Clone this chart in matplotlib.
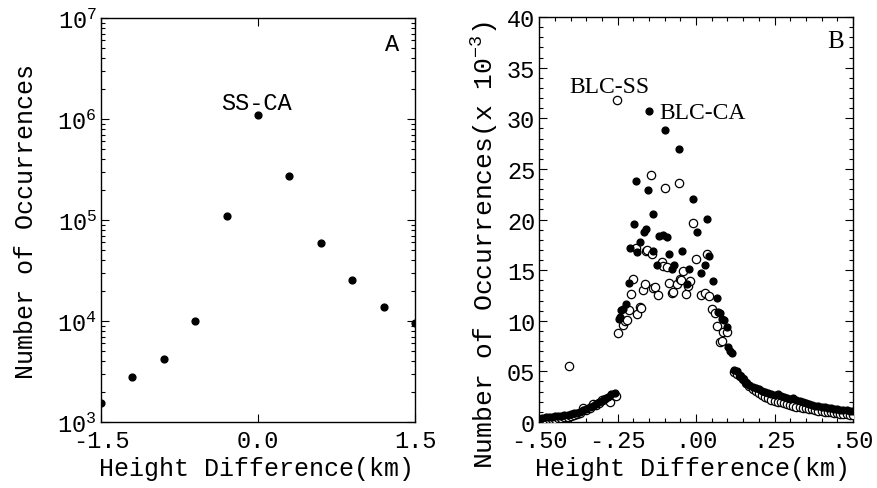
import matplotlib
matplotlib.use('Agg')
import matplotlib.pyplot as plt
from matplotlib.ticker import FixedLocator, FixedFormatter, MultipleLocator, LogLocator, NullFormatter

plt.rcParams['font.family'] = ['Liberation Mono', 'DejaVu Sans']
plt.rcParams['mathtext.fontset'] = 'custom'
plt.rcParams['mathtext.rm'] = 'Liberation Mono'
plt.rcParams['mathtext.it'] = 'Liberation Mono'

# Panel A: SS-CA height differences (log counts)
a_x = [-1.5, -1.2, -0.9, -0.6, -0.3, 0.0, 0.3, 0.6, 0.9, 1.2, 1.5]
a_y = [1540, 2770, 4200, 10000, 110000, 1100000, 275000, 59000, 25700, 13800, 9500]

# Panel B: BLC-CA (filled), counts x 1e-3
ca_x = [-0.50, -0.49, -0.48, -0.47, -0.46, -0.45, -0.44, -0.43, -0.42, -0.41,
        -0.40, -0.39, -0.38, -0.37, -0.36, -0.35, -0.34, -0.33, -0.32, -0.31,
        -0.30, -0.29, -0.28, -0.27, -0.26,
        -0.245, -0.243, -0.238, -0.232, -0.224, -0.215, -0.210, -0.198, -0.193, -0.190,
        -0.180, -0.167, -0.161, -0.155, -0.150, -0.139, -0.136, -0.125, -0.119, -0.105,
        -0.100, -0.092, -0.085, -0.076, -0.070, -0.055, -0.045, -0.030, -0.022, -0.009,
        0.002, 0.016, 0.028, 0.036, 0.041, 0.055, 0.066, 0.070, 0.076, 0.083,
        0.090, 0.098, 0.102, 0.108, 0.113,
        0.12, 0.13, 0.14, 0.15, 0.16, 0.17, 0.18, 0.19, 0.20, 0.21,
        0.22, 0.23, 0.24, 0.25, 0.26, 0.27, 0.28, 0.29, 0.30, 0.31,
        0.32, 0.33, 0.34, 0.35, 0.36, 0.37, 0.38, 0.39, 0.40, 0.41,
        0.42, 0.43, 0.44, 0.45, 0.46, 0.47, 0.48, 0.49, 0.50]
ca_y = [0.30, 0.35, 0.50, 0.45, 0.50, 0.55, 0.55, 0.60, 0.65, 0.70,
        0.75, 0.85, 0.90, 1.00, 1.15, 1.30, 1.45, 1.60, 1.80, 1.95,
        2.10, 2.30, 2.50, 2.75, 2.90,
        10.2, 10.4, 11.1, 11.2, 11.7, 13.7, 17.2, 19.6, 23.8, 16.8,
        17.75, 18.8, 19.1, 22.9, 30.7, 20.5, 16.9, 15.5, 18.4, 18.5,
        28.85, 18.3, 16.6, 15.1, 15.5, 27.0, 16.9, 13.6, 15.1, 22.0,
        18.8, 14.7, 15.5, 20.1, 16.4, 13.9, 12.2, 10.9, 10.8, 10.2,
        10.05, 9.4, 7.4, 7.0, 6.8,
        5.1, 5.0, 4.5, 4.2, 3.9, 3.7, 3.5, 3.4, 3.3, 3.1,
        3.0, 2.9, 2.8, 2.7, 2.75, 2.6, 2.45, 2.35, 2.3, 2.4,
        2.2, 2.05, 1.95, 1.85, 1.75, 1.7, 1.6, 1.55, 1.5, 1.45,
        1.4, 1.35, 1.3, 1.25, 1.2, 1.2, 1.15, 1.1, 1.05]

# Panel B: BLC-SS (open)
ss_x = [-0.50, -0.49, -0.48, -0.47, -0.46, -0.45, -0.44, -0.43, -0.42, -0.41,
        -0.405, -0.40, -0.39, -0.38, -0.37, -0.36, -0.35, -0.34, -0.33, -0.32,
        -0.31, -0.30, -0.29, -0.28, -0.275, -0.265, -0.255,
        -0.2516, -0.248, -0.232, -0.228, -0.221, -0.215, -0.208, -0.200, -0.192, -0.187,
        -0.179, -0.176, -0.169, -0.162, -0.160, -0.156, -0.145, -0.141, -0.138, -0.132,
        -0.123, -0.110, -0.106, -0.100, -0.094, -0.087, -0.078, -0.074, -0.062, -0.055,
        -0.051, -0.048, -0.042, -0.033, -0.025, -0.018, -0.010, 0.000, 0.014, 0.027,
        0.035, 0.041, 0.050, 0.060, 0.067, 0.075, 0.084, 0.086, 0.097,
        0.12, 0.13, 0.14, 0.15, 0.16, 0.17, 0.18, 0.19, 0.20, 0.21,
        0.22, 0.23, 0.24, 0.25, 0.26, 0.27, 0.28, 0.29, 0.30, 0.31,
        0.32, 0.33, 0.34, 0.35, 0.36, 0.37, 0.38, 0.39, 0.40, 0.41,
        0.42, 0.43, 0.44, 0.45, 0.46, 0.47, 0.48, 0.49, 0.50]
ss_y = [0.15, 0.20, 0.20, 0.25, 0.30, 0.30, 0.35, 0.40, 0.45, 0.50,
        5.5, 0.55, 0.65, 0.75, 0.90, 1.35, 1.20, 1.40, 1.80, 1.70,
        1.90, 2.20, 2.30, 2.40, 2.00, 2.70, 2.60,
        31.85, 8.8, 9.6, 10.0, 10.1, 11.1, 12.65, 14.1, 17.2, 10.7,
        11.4, 11.3, 13.0, 13.6, 16.9, 17.0, 24.4, 16.6, 13.2, 13.3,
        12.55, 15.8, 15.4, 23.1, 15.35, 13.7, 12.7, 12.8, 13.6, 23.6,
        14.1, 14.0, 14.9, 12.6, 13.4, 13.9, 19.7, 16.1, 12.5, 12.75,
        16.6, 12.4, 11.2, 10.8, 9.46, 7.9, 8.0, 8.9, 8.86,
        4.9, 4.7, 4.5, 4.2, 3.9, 3.6, 3.3, 3.1, 2.9, 2.7,
        2.5, 2.35, 2.2, 2.1, 2.0, 1.95, 1.85, 1.75, 1.7, 1.6,
        1.5, 1.45, 1.4, 1.35, 1.3, 1.25, 1.2, 1.1, 1.05, 1.0,
        0.95, 0.95, 0.9, 0.85, 0.8, 0.8, 0.75, 0.7, 0.65]

b_xticks = [-0.5, -0.25, 0.0, 0.25, 0.5]
b_xlabels = ['-.50', '-.25', '.00', '.25', '.50']
b_yticks = [0, 5, 10, 15, 20, 25, 30, 35, 40]
b_ylabels = ['0', '05', '10', '15', '20', '25', '30', '35', '40']

fig = plt.figure(figsize=(8.77, 4.89), dpi=100)
axA = fig.add_axes([0.1152, 0.135, 0.358, 0.826])
axB = fig.add_axes([0.615, 0.135, 0.3575, 0.828])

# ---- panel A
axA.scatter(a_x, a_y, s=24, color='black', zorder=3)
axA.set_yscale('log')
axA.set_xlim(-1.5, 1.5)
axA.set_ylim(1e3, 1e7)
axA.set_xticks([-1.5, 0.0, 1.5])
axA.set_xticklabels(['-1.5', '0.0', '1.5'])
axA.yaxis.set_major_locator(LogLocator(base=10, numticks=10))
axA.yaxis.set_minor_locator(LogLocator(base=10, subs=range(2, 10), numticks=10))
axA.yaxis.set_minor_formatter(NullFormatter())
axA.set_xlabel('Height Difference(km)', fontsize=18)
axA.set_ylabel('Number of Occurrences', fontsize=18)
axA.xaxis.set_label_coords(0.494, -0.085)
axA.yaxis.set_label_coords(-0.2, 0.5)
axA.text(0.494, 0.79, 'SS-CA', transform=axA.transAxes, fontsize=17,
         ha='center', va='center')
axA.text(0.927, 0.938, 'A', transform=axA.transAxes, fontsize=17,
         ha='center', va='center')

# ---- panel B (open circles underneath, filled dots on top)
axB.scatter(ss_x, ss_y, s=36, facecolors='white', edgecolors='black',
            linewidths=0.9, zorder=3)
axB.scatter(ca_x, ca_y, s=24, color='black', zorder=4)
axB.set_xlim(-0.5, 0.5)
axB.set_ylim(0, 40)
axB.xaxis.set_major_locator(FixedLocator(b_xticks))
axB.xaxis.set_major_formatter(FixedFormatter(b_xlabels))
axB.xaxis.set_minor_locator(MultipleLocator(0.05))
axB.yaxis.set_major_locator(FixedLocator(b_yticks))
axB.yaxis.set_major_formatter(FixedFormatter(b_ylabels))
axB.yaxis.set_minor_locator(MultipleLocator(1))
axB.set_xlabel('Height Difference(km)', fontsize=18)
axB.set_ylabel('Number of Occurrences(x 10$^{-3}$)', fontsize=19)
axB.xaxis.set_label_coords(0.49, -0.085)
axB.yaxis.set_label_coords(-0.125, 0.44)
axB.text(-0.278, 33.1, 'BLC-SS', fontsize=17, family='Liberation Serif',
         ha='center', va='center')
axB.text(-0.118, 30.6, 'BLC-CA', fontsize=17, family='Liberation Serif',
         ha='left', va='center')
axB.text(0.945, 0.94, 'B', transform=axB.transAxes, fontsize=18,
         family='Liberation Serif', ha='center', va='center')

for ax in (axA, axB):
    ax.tick_params(which='both', direction='in', top=True, right=True,
                   labelsize=17, width=0.8)
    ax.tick_params(which='major', length=6, pad=5)
    ax.tick_params(which='minor', length=3)
    ax.tick_params(axis='y', pad=3)
    for sp in ax.spines.values():
        sp.set_linewidth(1.0)

fig.savefig('out.png', dpi=100)
